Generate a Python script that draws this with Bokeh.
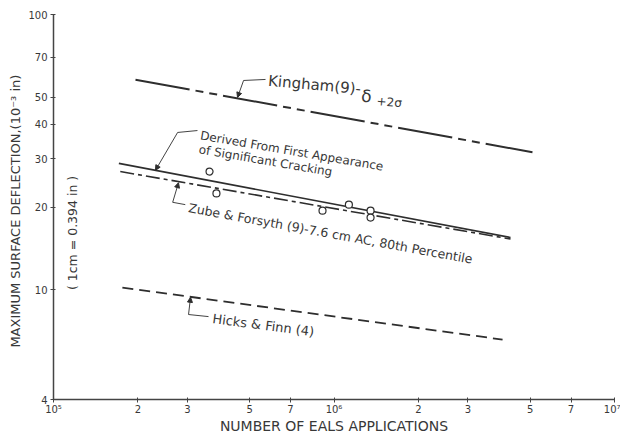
from bokeh.plotting import figure
from bokeh.models import FixedTicker, Label, Arrow, NormalHead
from bokeh.embed import file_html
from bokeh.resources import INLINE

# ---- data ----
kingham_x = [1.96e5, 5.1e6]
kingham_y = [58.0, 31.6]
derived_x = [1.71e5, 4.26e6]
derived_y = [28.8, 15.5]
zube_x = [1.73e5, 4.26e6]
zube_y = [26.9, 15.3]
hicks_x = [1.76e5, 3.99e6]
hicks_y = [10.2, 6.6]
points_x = [3.6e5, 3.81e5, 9.1e5, 1.13e6, 1.35e6, 1.35e6]
points_y = [26.9, 22.4, 19.4, 20.4, 19.4, 18.3]

x_ticks = [1e5, 2e5, 3e5, 5e5, 7e5, 1e6, 2e6, 3e6, 5e6, 7e6, 1e7]
x_tick_labels = ["10⁵", "2", "3", "5", "7", "10⁶", "2", "3", "5", "7", "10⁷"]
y_ticks = [4, 10, 20, 30, 40, 50, 70, 100]
y_tick_labels = ["4", "10", "20", "30", "40", "50", "70", "100"]

INK = "#2e2e2e"
TXT = "#383838"
FONT = "DejaVu Sans"

p = figure(width=620, height=437, x_axis_type="log", y_axis_type="log",
           x_range=(1e5, 1e7), y_range=(4, 100),
           output_backend="svg", toolbar_location=None,
           min_border_left=53, min_border_right=6, min_border_top=14,
           min_border_bottom=38)
p.outline_line_color = None
p.grid.visible = False
p.background_fill_color = "white"
p.border_fill_color = "white"

for ax in (p.xaxis[0], p.yaxis[0]):
    ax.axis_line_color = "#444444"
    ax.axis_line_width = 1.5
    ax.major_tick_line_color = "#444444"
    ax.major_tick_out = 3
    ax.major_tick_in = 2
    ax.minor_tick_line_color = None
    ax.major_label_text_font = FONT
    ax.major_label_text_font_size = "10px"
    ax.major_label_text_color = TXT
    ax.axis_label_text_font = FONT
    ax.axis_label_text_font_style = "normal"
    ax.axis_label_text_color = TXT

p.xaxis.axis_label_text_font_size = "14px"
p.yaxis.axis_label_text_font_size = "13px"
p.xaxis.major_label_standoff = 1
p.xaxis.axis_label_standoff = 0
p.yaxis.major_label_standoff = 3
p.yaxis.axis_label_standoff = 2

p.xaxis.ticker = FixedTicker(ticks=x_ticks)
p.xaxis.major_label_overrides = {t: l for t, l in zip(x_ticks, x_tick_labels)}
p.yaxis.ticker = FixedTicker(ticks=y_ticks)
p.yaxis.major_label_overrides = {t: l for t, l in zip(y_ticks, y_tick_labels)}
p.xaxis.axis_label = "NUMBER OF EALS APPLICATIONS"
p.yaxis.axis_label = "MAXIMUM  SURFACE  DEFLECTION,(10⁻³ in)"
p.yaxis.major_label_orientation = "horizontal"

# ---- lines ----
p.line(kingham_x, kingham_y, line_color=INK, line_width=2, line_dash="55 6 8 6 8 6")
p.line(derived_x, derived_y, line_color=INK, line_width=1.6)
p.line(zube_x, zube_y, line_color=INK, line_width=1.6, line_dash="14 4 4 4")
p.line(hicks_x, hicks_y, line_color=INK, line_width=1.8, line_dash="11 6")
p.scatter(points_x, points_y, size=7, marker="circle", fill_color="white",
          line_color=INK, line_width=1.2)

# ---- annotations ----
def leader(xs, ys):
    p.line(xs[1:], ys[1:], line_color=INK, line_width=0.9)
    p.add_layout(Arrow(end=NormalHead(size=5, fill_color=INK, line_color=INK),
                       x_start=xs[1], y_start=ys[1], x_end=xs[0], y_end=ys[0],
                       line_color=INK, line_width=0.9))

leader([4.53e5, 4.76e5, 5.70e5], [50.0, 57.6, 58.1])
leader([2.31e5, 2.77e5, 3.26e5], [27.2, 37.3, 37.9])
leader([2.79e5, 2.66e5, 2.95e5], [24.5, 20.8, 20.4])
leader([3.08e5, 3.03e5, 3.57e5], [9.4, 8.14, 8.0])

def label(x, y, text, size="12px", angle=-0.17):
    p.add_layout(Label(x=x, y=y, text=text, text_font=FONT, text_font_size=size,
                       text_color=TXT, angle=angle, text_align="left",
                       text_baseline="middle"))

label(5.83e5, 57.5, "Kingham(9)-", size="15px", angle=-0.09)
label(1.25e6, 50.8, "δ", size="17px", angle=-0.09)
label(1.42e6, 48.5, "+2σ", size="12px", angle=-0.09)
label(3.34e5, 36.4, "Derived From First Appearance", size="12px")
label(3.30e5, 32.4, "of Significant Cracking", size="12px")
label(3.03e5, 19.9, "Zube & Forsyth (9)-7.6 cm AC, 80th Percentile", size="12.5px", angle=-0.18)
label(3.69e5, 7.87, "Hicks & Finn (4)", size="13px", angle=-0.13)
p.add_layout(Label(x=1.17e5, y=16.1, text="( 1cm = 0.394 in )", text_font=FONT,
                   text_font_size="12.5px", text_color=TXT, angle=1.5708,
                   text_align="center", text_baseline="middle"))

open("out.html", "w").write(file_html(p, INLINE))
